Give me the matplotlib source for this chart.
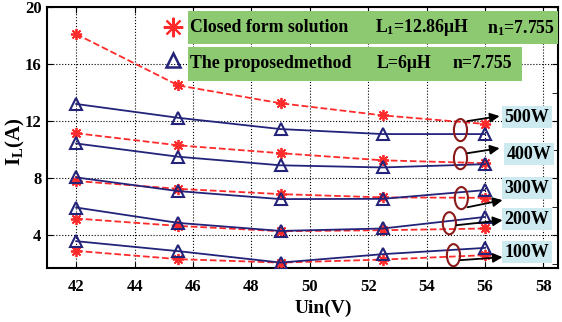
import matplotlib.pyplot as plt
from matplotlib.patches import Ellipse, Rectangle
from matplotlib.ticker import MultipleLocator

plt.rcParams['font.family'] = ['Liberation Serif', 'DejaVu Serif']
plt.rcParams['font.weight'] = 'bold'
plt.rcParams['mathtext.fontset'] = 'custom'
plt.rcParams['mathtext.rm'] = 'Liberation Serif:bold'
plt.rcParams['mathtext.it'] = 'Liberation Serif:bold'
plt.rcParams['mathtext.bf'] = 'Liberation Serif:bold'

uin = [42, 45.5, 49, 52.5, 56]
powers = ['500W', '400W', '300W', '200W', '100W']

# closed form solution (red dashed)
closed = {
    '500W': [18.1, 14.5, 13.25, 12.4, 11.8],
    '400W': [11.15, 10.3, 9.75, 9.25, 9.05],
    '300W': [7.8, 7.25, 6.88, 6.65, 6.62],
    '200W': [5.17, 4.65, 4.28, 4.35, 4.47],
    '100W': [2.9, 2.32, 2.08, 2.29, 2.6],
}
# proposed method (blue solid)
proposed = {
    '500W': [13.2, 12.23, 11.44, 11.09, 11.09],
    '400W': [10.43, 9.5, 8.9, 8.75, 8.98],
    '300W': [8.05, 7.09, 6.53, 6.55, 7.16],
    '200W': [5.94, 4.86, 4.3, 4.47, 5.28],
    '100W': [3.58, 2.88, 2.08, 2.67, 3.11],
}

# annotation helpers (data coords)
label_pos = {'500W': (57.43, 12.28), '400W': (57.5, 9.68), '300W': (57.43, 7.3),
             '200W': (57.43, 5.12), '100W': (57.43, 2.81)}
ellipse_pos = {'500W': (55.16, 11.37), '400W': (55.16, 9.4), '300W': (55.19, 6.6),
               '200W': (54.78, 4.84), '100W': (54.92, 2.6)}
arrow_from = {'500W': (55.4, 12.0), '400W': (55.4, 9.75), '300W': (55.4, 5.96),
              '200W': (55.02, 4.7), '100W': (55.16, 2.25)}
arrow_to = {'500W': (56.5, 12.35), '400W': (56.5, 10.1), '300W': (56.6, 6.46),
            '200W': (56.6, 5.05), '100W': (56.6, 2.46)}

red = '#ff2a2a'
blue = '#23237a'
green = '#8dc971'
lightblue = '#cdeaf0'
darkred = '#8b1a1a'

fig = plt.figure(figsize=(5.62, 3.22), dpi=100)
ax = fig.add_axes([47 / 562, 1 - 268 / 322, 511 / 562, 261 / 322])

for p in powers:
    ax.plot(uin, closed[p], color=red, ls='--', lw=1.3, marker=(8, 2, 0),
            ms=8, mew=1.3, zorder=3)
    ax.plot(uin, proposed[p], color=blue, ls='-', lw=1.3, marker='^',
            ms=8, mfc='none', mew=1.5, zorder=4)

for p in powers:
    ex, ey = ellipse_pos[p]
    ax.add_patch(Ellipse((ex, ey), 0.45, 1.55, fill=False, ec=darkred, lw=1.5, zorder=5))
    ax.annotate('', xy=arrow_to[p], xytext=arrow_from[p],
                arrowprops=dict(arrowstyle='-|>', color='black', lw=1.3,
                                mutation_scale=14, shrinkA=0, shrinkB=0), zorder=6)
    lx, ly = label_pos[p]
    ax.text(lx, ly, p, ha='center', va='center', fontsize=13, fontweight='bold',
            bbox=dict(boxstyle='square,pad=0.15', fc=lightblue, ec='none'), zorder=6)

ax.set_xlim(41, 58.5)
ax.set_ylim(1.7, 20)
ax.set_xticks([42, 44, 46, 48, 50, 52, 54, 56, 58])
ax.set_yticks([4, 8, 12, 16, 20])
ax.yaxis.set_minor_locator(MultipleLocator(2))
ax.tick_params(which='major', direction='in', right=True, top=True, length=4,
               labelsize=12)
ax.tick_params(axis='x', which='major', pad=8)
ax.tick_params(axis='y', which='major', pad=4)
ax.tick_params(which='minor', direction='in', left=False, right=True, length=4)
ax.grid(True, ls=':', color='black', lw=0.8)
for s in ax.spines.values():
    s.set_linewidth(1.5)

ax.set_xlabel('Uin(V)', fontsize=14, fontweight='bold')
ax.xaxis.set_label_coords(0.54, -0.12)
ax.set_ylabel(r'I$_\mathregular{L}$(A)', fontsize=15, fontweight='bold')
ax.yaxis.set_label_coords(-0.04, 0.483)

# custom legend
def fx(px):
    return px / 562

def fy(py):
    return 1 - py / 322

fig.patches.append(Rectangle((fx(188), fy(44)), (558 - 188) / 562, 33 / 322,
                             transform=fig.transFigure, fc=green, ec='none', zorder=5))
fig.patches.append(Rectangle((fx(188), fy(81)), (522 - 188) / 562, 34 / 322,
                             transform=fig.transFigure, fc=green, ec='none', zorder=5))
fig.lines.append(plt.Line2D([fx(173)], [fy(27)], transform=fig.transFigure, color=red,
                            marker=(8, 2, 0), ms=14, mew=1.5, ls='none'))
fig.lines.append(plt.Line2D([fx(173)], [fy(60)], transform=fig.transFigure, color=blue,
                            marker='^', ms=10, mfc='none', mew=1.8, ls='none'))
tkw = dict(fontsize=12.8, fontweight='bold', va='center', ha='left', zorder=6)
fig.text(fx(190), fy(28), 'Closed form solution', **tkw)
fig.text(fx(375), fy(28), r'L$_\mathregular{1}$=12.86μH', **tkw)
fig.text(fx(487), fy(28), r'n$_\mathregular{1}$=7.755', **tkw)
fig.text(fx(190), fy(63), 'The proposedmethod', **tkw)
fig.text(fx(377), fy(63), 'L=6μH', **tkw)
fig.text(fx(453), fy(63), 'n=7.755', **tkw)

fig.savefig('out.png', dpi=100)
